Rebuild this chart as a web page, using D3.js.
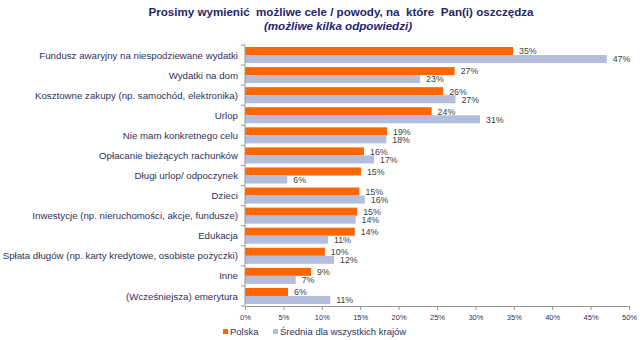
<!DOCTYPE html>
<html><head><meta charset="utf-8">
<script src="https://cdn.jsdelivr.net/npm/d3@7"></script>
<style>body{margin:0;background:#fff}svg{display:block;font-family:Arial,"Liberation Sans",sans-serif}</style>
</head><body><svg id="c" width="640" height="340"></svg>
<script>
const categories = ["Fundusz awaryjny na niespodziewane wydatki","Wydatki na dom","Kosztowne zakupy (np. samochód, elektronika)","Urlop","Nie mam konkretnego celu ","Opłacanie bieżących rachunków","Długi urlop/ odpoczynek","Dzieci","Inwestycje (np. nieruchomości, akcje, fundusze)","Edukacja","Spłata długów (np. karty kredytowe, osobiste pożyczki)","Inne","(Wcześniejsza) emerytura"];
const polska = [34.9,27.3,25.8,24.3,18.5,15.5,15.1,14.9,14.6,14.3,10.4,8.6,5.6];
const srednia = [47.1,22.8,27.4,30.6,18.4,16.8,5.5,15.6,14.4,10.8,11.6,6.6,11.1];
const seriesNames = ["Polska","Średnia dla wszystkich krajów"];
const xTicks = [0,5,10,15,20,25,30,35,40,45,50];

const colors = ["#FF6600","#B3BEDD"];
const svg = d3.select("#c");
const x = d3.scaleLinear().domain([0,50]).range([245,629]);
const y = d3.scaleBand().domain(categories).range([45,306]).paddingInner(0.2).paddingOuter(0.1);
const ys = d3.scaleBand().domain([0,1]).range([0,y.bandwidth()]);

svg.append("text").attr("x",341).attr("y",16).attr("text-anchor","middle").style("white-space","pre")
  .attr("font-size",11.6).attr("font-weight","bold").attr("fill","#25256b")
  .text("Prosimy wymienić  możliwe cele / powody, na  które  Pan(i) oszczędza");
svg.append("text").attr("x",338).attr("y",30).attr("text-anchor","middle")
  .attr("font-size",11.6).attr("font-weight","bold").attr("font-style","italic").attr("fill","#25256b")
  .text("(możliwe kilka odpowiedzi)");

const series = [polska, srednia];
series.forEach((vals,si)=>{
  const g = svg.append("g");
  g.selectAll("rect").data(categories).join("rect")
    .attr("x",x(0)).attr("y",d=>y(d)+ys(si)).attr("height",ys.bandwidth())
    .attr("width",(d,i)=>x(vals[i])-x(0)).attr("fill",colors[si]);
  g.selectAll("text").data(categories).join("text")
    .attr("x",(d,i)=>x(vals[i])+6).attr("y",d=>y(d)+ys(si)+ys.bandwidth()/2+1)
    .attr("dominant-baseline","middle").attr("font-size",8.8).attr("fill","#404040")
    .text((d,i)=>Math.round(vals[i])+"%");
});

// y axis
const yAxis = svg.append("g").attr("transform",`translate(${x(0)},0)`);
yAxis.append("line").attr("y1",45).attr("y2",306).attr("stroke","#999");
const bounds = d3.range(categories.length+1).map(i=>45+i*y.step());
yAxis.selectAll("line.t").data(bounds).join("line").attr("class","t")
  .attr("x1",-4).attr("x2",0).attr("y1",d=>d).attr("y2",d=>d).attr("stroke","#999");
svg.append("g").selectAll("text").data(categories).join("text")
  .attr("x",238).attr("y",d=>y(d)+y.bandwidth()/2+1).attr("text-anchor","end")
  .attr("dominant-baseline","middle").attr("font-size",9.7).attr("fill","#30305a").text(d=>d);

// x axis
const xAxis = d3.axisBottom(x).tickValues(xTicks).tickFormat(d=>d+"%").tickSize(4).tickSizeOuter(0);
const gx = svg.append("g").attr("transform","translate(0,306)").call(xAxis);
gx.select(".domain").attr("stroke","#999");
gx.selectAll(".tick line").attr("stroke","#999");
gx.selectAll(".tick text").attr("font-size",7.5).attr("fill","#30305a").attr("font-family","Arial,'Liberation Sans',sans-serif").attr("dy","0.9em");

// legend
const leg = svg.append("g");
const legX = [223,273];
seriesNames.forEach((n,i)=>{
  leg.append("rect").attr("x",legX[i]).attr("y",329).attr("width",5).attr("height",5).attr("fill",colors[i]);
  leg.append("text").attr("x",legX[i]+7).attr("y",332).attr("dominant-baseline","middle")
    .attr("font-size",9.5).attr("fill","#30305a").text(n);
});
</script></body></html>
